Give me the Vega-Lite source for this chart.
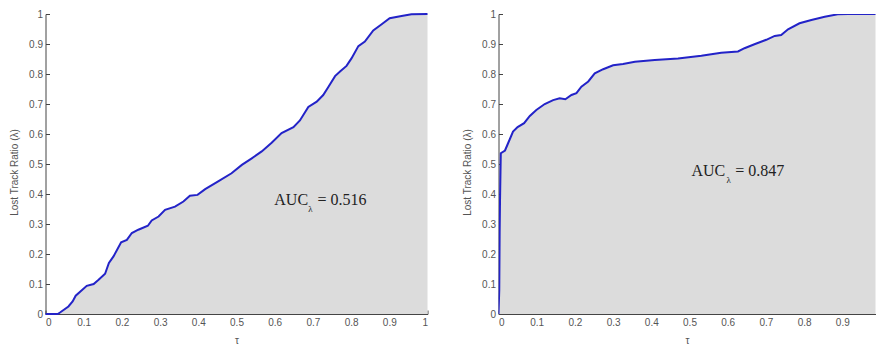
{
  "$schema": "https://vega.github.io/schema/vega-lite/v6.json",
  "padding": {"left": 9.5, "top": 9, "right": 0, "bottom": 0},
  "spacing": 31,
  "config": {
    "view": {"stroke": null},
    "axis": {
      "grid": false,
      "domainColor": "#444444",
      "tickColor": "#444444",
      "tickSize": -4,
      "labelFont": "Liberation Sans",
      "labelFontSize": 10,
      "labelColor": "#555555",
      "labelPadding": 7,
      "titleFont": "Liberation Sans",
      "titleFontSize": 10,
      "titleFontWeight": "normal",
      "titleColor": "#555555"
    }
  },
  "datasets": {
    "left": [
      {"tau": 0, "ratio": 0},
      {"tau": 0.032, "ratio": 0},
      {"tau": 0.038, "ratio": 0.005},
      {"tau": 0.06, "ratio": 0.025},
      {"tau": 0.071, "ratio": 0.042},
      {"tau": 0.079, "ratio": 0.061},
      {"tau": 0.095, "ratio": 0.079},
      {"tau": 0.108, "ratio": 0.094},
      {"tau": 0.126, "ratio": 0.1},
      {"tau": 0.139, "ratio": 0.114},
      {"tau": 0.156, "ratio": 0.134},
      {"tau": 0.166, "ratio": 0.17},
      {"tau": 0.178, "ratio": 0.192},
      {"tau": 0.198, "ratio": 0.239},
      {"tau": 0.213, "ratio": 0.247},
      {"tau": 0.226, "ratio": 0.27},
      {"tau": 0.243, "ratio": 0.281},
      {"tau": 0.268, "ratio": 0.294},
      {"tau": 0.278, "ratio": 0.312},
      {"tau": 0.296, "ratio": 0.325},
      {"tau": 0.313, "ratio": 0.347},
      {"tau": 0.339, "ratio": 0.358},
      {"tau": 0.361, "ratio": 0.375},
      {"tau": 0.378, "ratio": 0.394},
      {"tau": 0.398, "ratio": 0.397},
      {"tau": 0.418, "ratio": 0.416},
      {"tau": 0.452, "ratio": 0.442},
      {"tau": 0.487, "ratio": 0.469},
      {"tau": 0.514, "ratio": 0.497},
      {"tau": 0.54, "ratio": 0.519},
      {"tau": 0.566, "ratio": 0.542},
      {"tau": 0.592, "ratio": 0.571},
      {"tau": 0.618, "ratio": 0.603},
      {"tau": 0.649, "ratio": 0.623},
      {"tau": 0.666, "ratio": 0.645},
      {"tau": 0.688, "ratio": 0.69},
      {"tau": 0.71, "ratio": 0.708},
      {"tau": 0.727, "ratio": 0.73},
      {"tau": 0.74, "ratio": 0.756},
      {"tau": 0.758, "ratio": 0.793},
      {"tau": 0.771, "ratio": 0.808},
      {"tau": 0.788, "ratio": 0.827},
      {"tau": 0.801, "ratio": 0.852},
      {"tau": 0.819, "ratio": 0.893},
      {"tau": 0.836, "ratio": 0.908},
      {"tau": 0.858, "ratio": 0.945},
      {"tau": 0.88, "ratio": 0.966},
      {"tau": 0.901, "ratio": 0.986},
      {"tau": 0.932, "ratio": 0.993},
      {"tau": 0.958, "ratio": 0.999},
      {"tau": 1, "ratio": 1}
    ],
    "right": [
      {"tau": 0, "ratio": 0},
      {"tau": 0.002, "ratio": 0.08},
      {"tau": 0.003, "ratio": 0.27},
      {"tau": 0.004, "ratio": 0.38},
      {"tau": 0.006, "ratio": 0.536},
      {"tau": 0.017, "ratio": 0.545},
      {"tau": 0.027, "ratio": 0.575},
      {"tau": 0.038, "ratio": 0.608},
      {"tau": 0.05, "ratio": 0.623},
      {"tau": 0.067, "ratio": 0.636},
      {"tau": 0.082, "ratio": 0.66},
      {"tau": 0.099, "ratio": 0.68},
      {"tau": 0.121, "ratio": 0.7},
      {"tau": 0.143, "ratio": 0.713},
      {"tau": 0.16, "ratio": 0.719},
      {"tau": 0.175, "ratio": 0.716},
      {"tau": 0.191, "ratio": 0.73},
      {"tau": 0.204, "ratio": 0.736},
      {"tau": 0.217, "ratio": 0.758},
      {"tau": 0.235, "ratio": 0.775},
      {"tau": 0.252, "ratio": 0.802},
      {"tau": 0.274, "ratio": 0.816},
      {"tau": 0.3, "ratio": 0.829},
      {"tau": 0.326, "ratio": 0.833},
      {"tau": 0.357, "ratio": 0.841},
      {"tau": 0.409, "ratio": 0.847},
      {"tau": 0.47, "ratio": 0.852},
      {"tau": 0.531, "ratio": 0.861},
      {"tau": 0.583, "ratio": 0.871},
      {"tau": 0.627, "ratio": 0.875},
      {"tau": 0.644, "ratio": 0.886},
      {"tau": 0.67, "ratio": 0.899},
      {"tau": 0.701, "ratio": 0.914},
      {"tau": 0.723, "ratio": 0.927},
      {"tau": 0.74, "ratio": 0.93},
      {"tau": 0.758, "ratio": 0.949},
      {"tau": 0.788, "ratio": 0.969},
      {"tau": 0.819, "ratio": 0.98},
      {"tau": 0.854, "ratio": 0.991},
      {"tau": 0.888, "ratio": 0.999},
      {"tau": 0.915, "ratio": 1},
      {"tau": 1, "ratio": 1}
    ],
    "leftMain": [
      {"tau": 0.599, "ratio": 0.363, "label": "AUC"},
      {"tau": 0.712, "ratio": 0.363, "label": "= 0.516"}
    ],
    "leftSub": [
      {"tau": 0.688, "ratio": 0.34, "label": "λ"}
    ],
    "rightMain": [
      {"tau": 0.505, "ratio": 0.46, "label": "AUC"},
      {"tau": 0.62, "ratio": 0.46, "label": "= 0.847"}
    ],
    "rightSub": [
      {"tau": 0.597, "ratio": 0.437, "label": "λ"}
    ]
  },
  "hconcat": [
    {
      "width": 382,
      "height": 300,
      "encoding": {
        "x": {"field": "tau", "type": "quantitative", "scale": {"domain": [0, 1], "nice": false},
              "axis": {"values": [0, 0.1, 0.2, 0.3, 0.4, 0.5, 0.6, 0.7, 0.8, 0.9, 1], "format": "~g", "title": "τ", "titlePadding": 8}},
        "y": {"field": "ratio", "type": "quantitative", "scale": {"domain": [0, 1], "nice": false},
              "axis": {"values": [0, 0.1, 0.2, 0.3, 0.4, 0.5, 0.6, 0.7, 0.8, 0.9, 1], "format": "~g", "title": "Lost Track Ratio (λ)", "titlePadding": 9, "titleY": 158}}
      },
      "layer": [
        {"data": {"name": "left"}, "mark": {"type": "area", "color": "#dcdcdc"}},
        {"data": {"name": "left"}, "mark": {"type": "line", "color": "#2323c8", "strokeWidth": 2}},
        {"data": {"name": "leftMain"}, "mark": {"type": "text", "align": "left", "baseline": "alphabetic", "font": "Liberation Serif", "fontSize": 16, "color": "#222222"},
         "encoding": {"text": {"field": "label"}}},
        {"data": {"name": "leftSub"}, "mark": {"type": "text", "align": "left", "baseline": "alphabetic", "font": "Liberation Serif", "fontSize": 9, "color": "#222222"},
         "encoding": {"text": {"field": "label"}}}
      ]
    },
    {
      "width": 377,
      "height": 300,
      "encoding": {
        "x": {"field": "tau", "type": "quantitative", "scale": {"domain": [0, 0.98691], "nice": false},
              "axis": {"values": [0, 0.1, 0.2, 0.3, 0.4, 0.5, 0.6, 0.7, 0.8, 0.9], "format": "~g", "title": "τ", "titlePadding": 8}},
        "y": {"field": "ratio", "type": "quantitative", "scale": {"domain": [0, 1], "nice": false},
              "axis": {"values": [0, 0.1, 0.2, 0.3, 0.4, 0.5, 0.6, 0.7, 0.8, 0.9, 1], "format": "~g", "title": "Lost Track Ratio (λ)", "titlePadding": 9, "titleY": 158}}
      },
      "layer": [
        {"data": {"name": "right"}, "mark": {"type": "area", "color": "#dcdcdc", "clip": true}},
        {"data": {"name": "right"}, "mark": {"type": "line", "color": "#2323c8", "strokeWidth": 2, "clip": true}},
        {"data": {"name": "rightMain"}, "mark": {"type": "text", "align": "left", "baseline": "alphabetic", "font": "Liberation Serif", "fontSize": 16, "color": "#222222"},
         "encoding": {"text": {"field": "label"}}},
        {"data": {"name": "rightSub"}, "mark": {"type": "text", "align": "left", "baseline": "alphabetic", "font": "Liberation Serif", "fontSize": 9, "color": "#222222"},
         "encoding": {"text": {"field": "label"}}}
      ]
    }
  ]
}
